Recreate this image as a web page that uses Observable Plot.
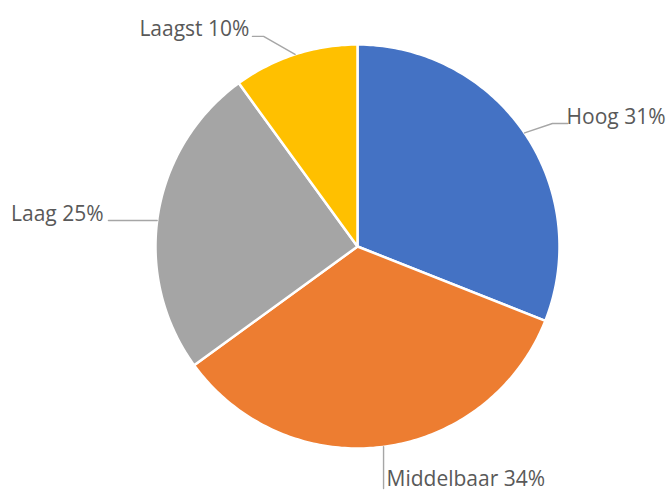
<!DOCTYPE html>
<html><head><meta charset="utf-8">
<script src="https://cdn.jsdelivr.net/npm/d3@7"></script>
<script src="https://cdn.jsdelivr.net/npm/@observablehq/plot@0.6"></script>
<style>body{margin:0;background:#fff;}svg{display:block;}</style>
</head><body><div id="chart"></div>
<script>
// Data
const categories = ["Hoog", "Middelbaar", "Laag", "Laagst"];
const values = [31, 34, 25, 10];
const colors = ["#4472C4", "#ED7D31", "#A5A5A5", "#FFC000"];

// Label layout (pie-radius units, y up): leader elbow/end and text anchor
const labelLayout = [
  {leader: [[0.965, 0.609], [1.04, 0.609]], text: [1.035, 0.641], anchor: "start"},
  {leader: [[0.129, -1.198]], text: [0.1436, -1.151], anchor: "start", vertical: true},
  {leader: [[-1.233, 0.129]], text: [-1.257, 0.161], anchor: "end", horizontal: true},
  {leader: [[-0.465, 1.04], [-0.52, 1.04]], text: [-0.535, 1.077], anchor: "end"}
];

const W = 671, H = 493, R = 202, cx = 357, cy = 246;
const total = d3.sum(values);

// Build slice polygons from the values
let acc = 0;
const slices = categories.map((c, i) => {
  const a0 = acc / total * 2 * Math.PI;
  acc += values[i];
  const a1 = acc / total * 2 * Math.PI;
  const n = Math.max(8, Math.ceil(values[i] * 4));
  const pts = [{x: 0, y: 0}];
  for (let k = 0; k <= n; k++) {
    const a = a0 + (a1 - a0) * k / n;
    pts.push({x: Math.sin(a), y: Math.cos(a)});
  }
  pts.push({x: 0, y: 0});
  return {name: c, value: values[i], a0, a1, mid: (a0 + a1) / 2, pts, color: colors[i]};
});

// Leader lines
const leaders = [];
const labelsStart = [], labelsEnd = [];
slices.forEach((s, i) => {
  const L = labelLayout[i];
  let e = {x: Math.sin(s.mid), y: Math.cos(s.mid)};
  const first = L.leader[0];
  if (L.horizontal) e = {x: -Math.sqrt(1 - first[1] ** 2) * Math.sign(-first[0] * -1) * -1, y: first[1]};
  if (L.horizontal) e.x = (first[0] < 0 ? -1 : 1) * Math.sqrt(1 - first[1] ** 2);
  if (L.vertical) e = {x: first[0], y: (first[1] < 0 ? -1 : 1) * Math.sqrt(1 - first[0] ** 2)};
  leaders.push({name: s.name, x: e.x, y: e.y});
  L.leader.forEach(p => leaders.push({name: s.name, x: p[0], y: p[1]}));
  const row = {x: L.text[0], y: L.text[1], label: `${s.name} ${s.value}%`};
  (L.anchor === "start" ? labelsStart : labelsEnd).push(row);
});

const textStyle = {fontSize: 21, fill: "#595959", fontFamily: "'Open Sans', sans-serif"};

const chart = Plot.plot({
  width: W, height: H, margin: 0,
  style: {background: "#fff"},
  x: {domain: [-cx / R, (W - cx) / R], range: [0, W], axis: null},
  y: {domain: [-(H - cy) / R, cy / R], range: [H, 0], axis: null},
  marks: [
    ...slices.map(s => Plot.line(s.pts, {x: "x", y: "y", fill: s.color, stroke: "white", strokeWidth: 2.5, strokeLinejoin: "round", curve: "linear"})),
    Plot.line(leaders, {x: "x", y: "y", z: "name", stroke: "#a6a6a6", strokeWidth: 1.4}),
    Plot.text(labelsStart, {x: "x", y: "y", text: "label", textAnchor: "start", ...textStyle}),
    Plot.text(labelsEnd, {x: "x", y: "y", text: "label", textAnchor: "end", ...textStyle})
  ]
});
document.getElementById("chart").append(chart);
</script>
</body></html>
